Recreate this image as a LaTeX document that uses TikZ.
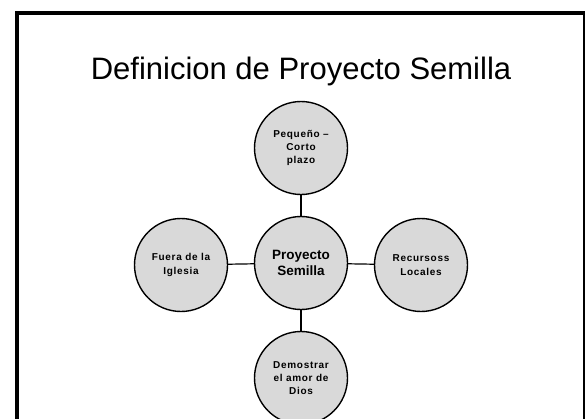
\documentclass[tikz,border=0pt]{standalone}
\usepackage{fontspec}
\setmainfont{Liberation Sans}
\usetikzlibrary{calc}
\tikzstyle{bubble}=[circle,fill=black!15,draw,line width=1.4pt,minimum size=93pt,inner sep=0pt,align=center]
\tikzstyle{smalltext}=[font=\addfontfeature{LetterSpace=7}\bfseries\fontsize{10}{13.3}\selectfont]
\tikzstyle{bigtext}=[font=\bfseries\fontsize{13.5}{16}\selectfont]
\tikzstyle{undirectededge} = [draw,line width=1.2pt]

\begin{document}
\begin{tikzpicture}[x=1pt,y=-1pt]

  \useasboundingbox (0,0) rectangle (586,418);
  \clip (0,0) rectangle (586,418);

% Frame
  \draw[line width=2pt] (584,13) -- (584,430);
  \draw[line width=4pt] (17,430) -- (17,13) -- (585,13);

% Title
  \node[font=\fontsize{31}{34}\selectfont,anchor=base] (title) at (301,79) {Definicion de Proyecto Semilla};

   \def\dx{120};
   \def\dy{115}
%centre
   \node[bubble,bigtext] (centre) at (301,263) {Proyecto\\Semilla};

%outer
    \foreach \pos/\name/\label in {{(301,263-\dy)/top/{Pequeño --\\Corto\\plazo}}, {(301-\dx,265)/left/{Fuera de la\\Iglesia}}, {(301+\dx,265)/right/{Recursoss\\Locales}}, {(301,263+\dy)/bottom/{Demostrar\\el amor de\\Dios}}}
    	\node[bubble,smalltext] (\name) at \pos {\label};

    % Connect vertices with edges
    \foreach \dest in {top,left,right,bottom}
        \path[undirectededge] (centre) -- (\dest);

\end{tikzpicture}
\end{document}
